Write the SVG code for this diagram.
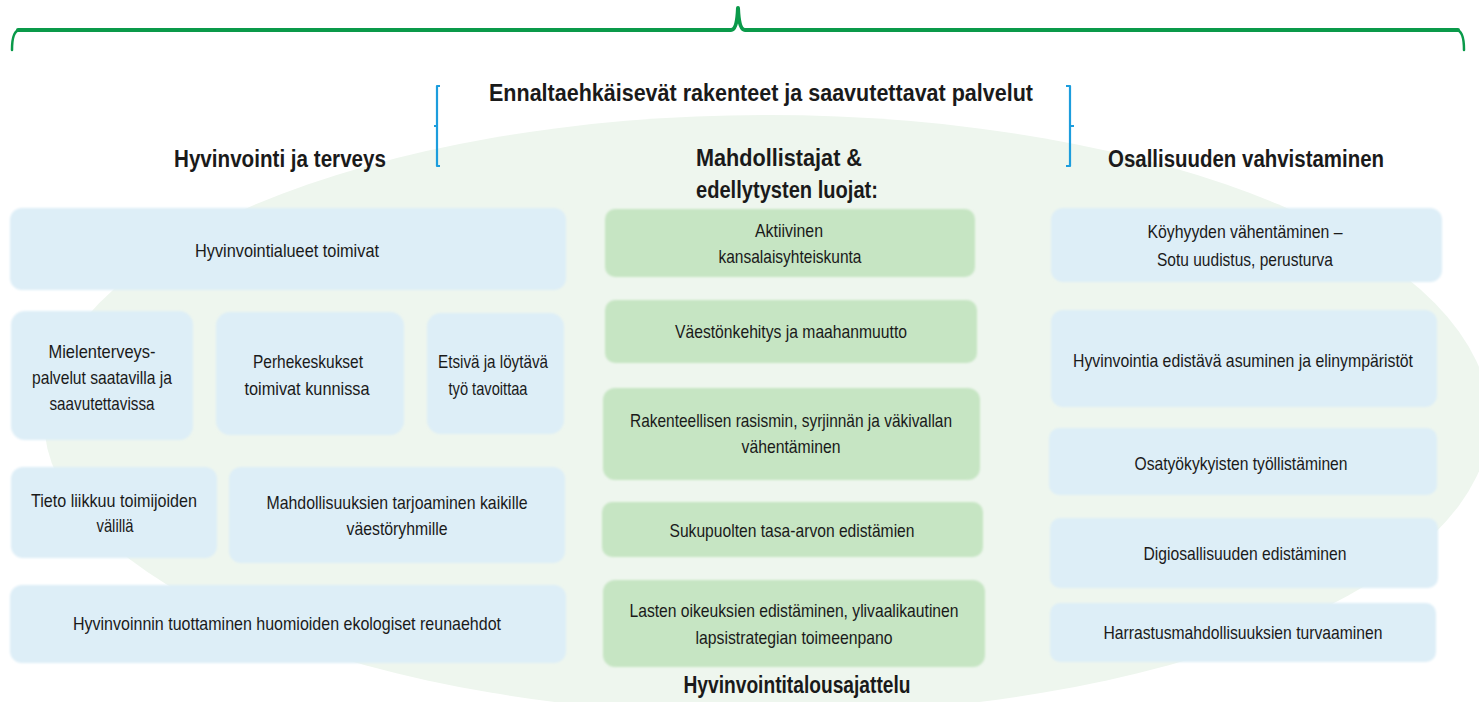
<svg xmlns="http://www.w3.org/2000/svg" width="1479" height="702" viewBox="0 0 1479 702">
<defs>
<filter id="soft" x="-5%" y="-10%" width="110%" height="120%"><feGaussianBlur stdDeviation="1.3"/></filter>
</defs>
<style>
.bg{fill:#eef6ee}
.blue{fill:#ddeef7;filter:url(#soft)}
.green{fill:#c6e5c3;filter:url(#soft)}
text{font-family:"Liberation Sans","Arial",sans-serif;fill:#1a1a1a;text-anchor:middle}
.t{font-size:18.5px}
.h{font-size:23px;font-weight:bold}
.brace{fill:none;stroke:#0a9a4a;stroke-linecap:round;stroke-linejoin:round}
.bkt{fill:none;stroke:#1c9ddd;stroke-width:2.2;stroke-linejoin:round}
</style>
<path class="bg" d="M44,420 A723,305 0 0 1 1490,420 A723,295 0 0 1 44,420 Z"/>
<g id="connectors">
<path class="brace" stroke-width="2.5" d="M12,50 Q12,30 20,30 M1456,30 Q1464,30 1464,50"/>
<path class="brace" stroke-width="4" d="M18,30 L731,30 Q737,30 738,8 Q739,30 745,30 L1458,30"/>
<path class="bkt" d="M440,86 L437,86 L437,126 L434,126 M437,126 L437,166 L440,166"/>
<path class="bkt" d="M1066,86 L1070,86 L1070,126 L1074,126 M1070,126 L1070,166 L1066,166"/>
</g>
<g id="headings">
<text class="h" x="761" y="101" textLength="544" lengthAdjust="spacingAndGlyphs">Ennaltaehkäisevät rakenteet ja saavutettavat palvelut</text>
<text class="h" x="280" y="167" textLength="212" lengthAdjust="spacingAndGlyphs">Hyvinvointi ja terveys</text>
<text class="h" x="779" y="166" textLength="166" lengthAdjust="spacingAndGlyphs">Mahdollistajat &amp;</text>
<text class="h" x="787" y="198" textLength="182" lengthAdjust="spacingAndGlyphs">edellytysten luojat:</text>
<text class="h" x="1246" y="167" textLength="276" lengthAdjust="spacingAndGlyphs">Osallisuuden vahvistaminen</text>
<text class="h" x="797" y="693" textLength="227" lengthAdjust="spacingAndGlyphs">Hyvinvointitalousajattelu</text>
</g>
<g id="L1"><rect class="blue" x="10" y="208" width="556" height="82" rx="12"/><text class="t" x="287" y="257" textLength="184" lengthAdjust="spacingAndGlyphs">Hyvinvointialueet toimivat</text></g>
<g id="L2"><rect class="blue" x="11" y="311" width="182" height="129" rx="14"/><text class="t" x="102" y="358" textLength="107" lengthAdjust="spacingAndGlyphs">Mielenterveys-</text><text class="t" x="102" y="384" textLength="140" lengthAdjust="spacingAndGlyphs">palvelut saatavilla ja</text><text class="t" x="102" y="410" textLength="105" lengthAdjust="spacingAndGlyphs">saavutettavissa</text></g>
<g id="L3"><rect class="blue" x="216" y="312" width="188" height="123" rx="14"/><text class="t" x="308" y="368" textLength="110" lengthAdjust="spacingAndGlyphs">Perhekeskukset</text><text class="t" x="307" y="395" textLength="125" lengthAdjust="spacingAndGlyphs">toimivat kunnissa</text></g>
<g id="L4"><rect class="blue" x="427" y="313" width="137" height="121" rx="14"/><text class="t" x="493" y="368" textLength="110" lengthAdjust="spacingAndGlyphs">Etsivä ja löytävä</text><text class="t" x="488" y="395" textLength="79" lengthAdjust="spacingAndGlyphs">työ tavoittaa</text></g>
<g id="L5"><rect class="blue" x="11" y="467" width="206" height="91" rx="12"/><text class="t" x="114" y="507" textLength="166" lengthAdjust="spacingAndGlyphs">Tieto liikkuu toimijoiden</text><text class="t" x="115" y="532" textLength="37" lengthAdjust="spacingAndGlyphs">välillä</text></g>
<g id="L6"><rect class="blue" x="229" y="467" width="336" height="96" rx="12"/><text class="t" x="397" y="509" textLength="261" lengthAdjust="spacingAndGlyphs">Mahdollisuuksien tarjoaminen kaikille</text><text class="t" x="397" y="535" textLength="101" lengthAdjust="spacingAndGlyphs">väestöryhmille</text></g>
<g id="L7"><rect class="blue" x="10" y="585" width="556" height="78" rx="12"/><text class="t" x="287" y="630" textLength="428" lengthAdjust="spacingAndGlyphs">Hyvinvoinnin tuottaminen huomioiden ekologiset reunaehdot</text></g>
<g id="M1"><rect class="green" x="605" y="209" width="370" height="68" rx="10"/><text class="t" x="789" y="237" textLength="68" lengthAdjust="spacingAndGlyphs">Aktiivinen</text><text class="t" x="790" y="263" textLength="143" lengthAdjust="spacingAndGlyphs">kansalaisyhteiskunta</text></g>
<g id="M2"><rect class="green" x="605" y="300" width="372" height="63" rx="10"/><text class="t" x="791" y="338" textLength="232" lengthAdjust="spacingAndGlyphs">Väestönkehitys ja maahanmuutto</text></g>
<g id="M3"><rect class="green" x="603" y="388" width="377" height="92" rx="12"/><text class="t" x="791" y="427" textLength="322" lengthAdjust="spacingAndGlyphs">Rakenteellisen rasismin, syrjinnän ja väkivallan</text><text class="t" x="791" y="453" textLength="99" lengthAdjust="spacingAndGlyphs">vähentäminen</text></g>
<g id="M4"><rect class="green" x="602" y="502" width="381" height="55" rx="10"/><text class="t" x="792" y="537" textLength="245" lengthAdjust="spacingAndGlyphs">Sukupuolten tasa-arvon edistämien</text></g>
<g id="M5"><rect class="green" x="603" y="580" width="382" height="87" rx="12"/><text class="t" x="794" y="617" textLength="329" lengthAdjust="spacingAndGlyphs">Lasten oikeuksien edistäminen, ylivaalikautinen</text><text class="t" x="794" y="644" textLength="197" lengthAdjust="spacingAndGlyphs">lapsistrategian toimeenpano</text></g>
<g id="R1"><rect class="blue" x="1051" y="208" width="391" height="74" rx="12"/><text class="t" x="1245" y="238" textLength="195" lengthAdjust="spacingAndGlyphs">Köyhyyden vähentäminen –</text><text class="t" x="1245" y="266" textLength="176" lengthAdjust="spacingAndGlyphs">Sotu uudistus, perusturva</text></g>
<g id="R2"><rect class="blue" x="1051" y="310" width="386" height="97" rx="12"/><text class="t" x="1243" y="367" textLength="340" lengthAdjust="spacingAndGlyphs">Hyvinvointia edistävä asuminen ja elinympäristöt</text></g>
<g id="R3"><rect class="blue" x="1049" y="428" width="388" height="67" rx="10"/><text class="t" x="1241" y="470" textLength="213" lengthAdjust="spacingAndGlyphs">Osatyökykyisten työllistäminen</text></g>
<g id="R4"><rect class="blue" x="1050" y="518" width="388" height="70" rx="10"/><text class="t" x="1245" y="560" textLength="203" lengthAdjust="spacingAndGlyphs">Digiosallisuuden edistäminen</text></g>
<g id="R5"><rect class="blue" x="1050" y="603" width="386" height="59" rx="10"/><text class="t" x="1243" y="639" textLength="279" lengthAdjust="spacingAndGlyphs">Harrastusmahdollisuuksien turvaaminen</text></g>
</svg>
